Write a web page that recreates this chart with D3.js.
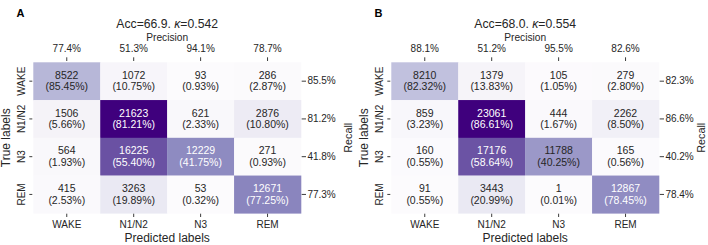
<!DOCTYPE html>
<html>
<head>
<meta charset="utf-8">
<script src="https://cdn.jsdelivr.net/npm/d3@7"></script>
<style>
  body { margin: 0; background: #fff; }
  svg { display: block; font-family: "Liberation Sans", Arial, sans-serif; }
</style>
</head>
<body>
<svg id="chart" width="708" height="245"></svg>
<script>
// stage labels shared by both panels
const stages = ["WAKE", "N1/N2", "N3", "REM"];

// panel A
const countsA = [
  [8522, 1072, 93, 286],
  [1506, 21623, 621, 2876],
  [564, 16225, 12229, 271],
  [415, 3263, 53, 12671]
];
const pctA = [
  [85.45, 10.75, 0.93, 2.87],
  [5.66, 81.21, 2.33, 10.80],
  [1.93, 55.40, 41.75, 0.93],
  [2.53, 19.89, 0.32, 77.25]
];
const precisionA = [77.4, 51.3, 94.1, 78.7];
const recallA = [85.5, 81.2, 41.8, 77.3];

// panel B
const countsB = [
  [8210, 1379, 105, 279],
  [859, 23061, 444, 2262],
  [160, 17176, 11788, 165],
  [91, 3443, 1, 12867]
];
const pctB = [
  [82.32, 13.83, 1.05, 2.80],
  [3.23, 86.61, 1.67, 8.50],
  [0.55, 58.64, 40.25, 0.56],
  [0.55, 20.99, 0.01, 78.45]
];
const precisionB = [88.1, 51.2, 95.5, 82.6];
const recallB = [82.3, 86.6, 40.2, 78.4];

const panelLetters = ["A", "B"];
const accuracy = ["66.9", "68.0"];
const kappa = ["0.542", "0.554"];

const panels = [
  { counts: countsA, pct: pctA, prec: precisionA, rec: recallA },
  { counts: countsB, pct: pctB, prec: precisionB, rec: recallB }
];

const svg = d3.select("#chart");
const ink = "#262626";
const gx0 = 33.3, gx1 = 301, gy0 = 62.3, gy1 = 213.3;
const panelShift = 358;
const recallX = [351.5, 346.5]; // B's recall label sits tighter to the edge

const x = d3.scaleBand().domain(stages).range([gx0, gx1]);
const y = d3.scaleBand().domain(stages).range([gy0, gy1]);

panels.forEach((p, i) => {
  const g = svg.append("g").attr("transform", `translate(${i * panelShift},0)`);
  const vmax = d3.max(p.counts.flat());
  const color = d3.scaleSequential(d3.interpolatePurples).domain([0, vmax]);

  // cells
  const cells = [];
  p.counts.forEach((row, r) => row.forEach((v, c) => {
    cells.push({ r, c, v, pct: p.pct[r][c] });
  }));

  const cell = g.selectAll("g.cell").data(cells).enter().append("g").attr("class", "cell");
  cell.append("rect")
    .attr("x", d => x(stages[d.c]))
    .attr("y", d => y(stages[d.r]))
    .attr("width", x.bandwidth() + 0.3)
    .attr("height", y.bandwidth() + 0.3)
    .attr("fill", d => color(d.v));

  const txtColor = d => {
    const col = d3.rgb(color(d.v));
    const lum = 0.299 * col.r + 0.587 * col.g + 0.114 * col.b;
    return lum < 150 ? "#ffffff" : ink;
  };

  cell.append("text")
    .attr("x", d => x(stages[d.c]) + x.bandwidth() / 2)
    .attr("y", d => y(stages[d.r]) + y.bandwidth() / 2 - 2.4)
    .attr("text-anchor", "middle")
    .attr("font-size", 10.5)
    .attr("fill", txtColor)
    .text(d => d.v);
  cell.append("text")
    .attr("x", d => x(stages[d.c]) + x.bandwidth() / 2)
    .attr("y", d => y(stages[d.r]) + y.bandwidth() / 2 + 9.3)
    .attr("text-anchor", "middle")
    .attr("font-size", 10.5)
    .attr("fill", txtColor)
    .text(d => `(${d.pct.toFixed(2)}%)`);

  // precision along the top
  const topAxis = g.append("g")
    .attr("transform", `translate(0,61)`)
    .call(d3.axisTop(x).tickSize(3.7).tickPadding(5)
      .tickFormat((d, k) => p.prec[k].toFixed(1) + "%"));

  // predicted labels along the bottom
  const bottomAxis = g.append("g")
    .attr("transform", `translate(0,213.7)`)
    .call(d3.axisBottom(x).tickSize(3.3).tickPadding(3.9));

  // true labels on the left
  const leftAxis = g.append("g")
    .attr("transform", `translate(32.3,0)`)
    .call(d3.axisLeft(y).tickSize(3));
  leftAxis.selectAll("text")
    .attr("x", null).attr("dy", null)
    .attr("text-anchor", "middle")
    .attr("transform", "translate(-7.3,0) rotate(-90)");

  // recall on the right
  const rightAxis = g.append("g")
    .attr("transform", `translate(301.7,0)`)
    .call(d3.axisRight(y).tickSize(4.3).tickPadding(1.4)
      .tickFormat((d, k) => p.rec[k].toFixed(1) + "%"));

  [topAxis, bottomAxis, leftAxis, rightAxis].forEach(a => {
    a.select(".domain").remove();
    a.selectAll("line").attr("stroke", ink).attr("stroke-width", 0.9);
    a.selectAll("text").attr("fill", ink).attr("font-size", 10)
      .attr("font-family", "Liberation Sans, Arial, sans-serif");
  });

  const cx = (gx0 + gx1) / 2, cy = (gy0 + gy1) / 2;

  const title = g.append("text")
    .attr("x", cx).attr("y", 28.3)
    .attr("text-anchor", "middle")
    .attr("font-size", 12.2)
    .attr("fill", ink);
  title.append("tspan").text(`Acc=${accuracy[i]}. `);
  title.append("tspan").attr("font-style", "italic").text("κ");
  title.append("tspan").text(`=${kappa[i]}`);

  g.append("text")
    .attr("x", cx).attr("y", 41.3)
    .attr("text-anchor", "middle")
    .attr("font-size", 10.2)
    .attr("fill", ink)
    .text("Precision");

  g.append("text")
    .attr("x", cx).attr("y", 242)
    .attr("text-anchor", "middle")
    .attr("font-size", 12)
    .attr("fill", ink)
    .text("Predicted labels");

  g.append("text")
    .attr("transform", `translate(10.3,${cy}) rotate(-90)`)
    .attr("text-anchor", "middle")
    .attr("font-size", 12)
    .attr("fill", ink)
    .text("True labels");

  g.append("text")
    .attr("transform", `translate(${recallX[i]},${cy}) rotate(-90)`)
    .attr("text-anchor", "middle")
    .attr("font-size", 10.8)
    .attr("fill", ink)
    .text("Recall");

  g.append("text")
    .attr("x", 16.5).attr("y", 17)
    .attr("font-size", 11)
    .attr("font-weight", "bold")
    .attr("fill", "#000")
    .text(panelLetters[i]);
});
</script>
</body>
</html>
